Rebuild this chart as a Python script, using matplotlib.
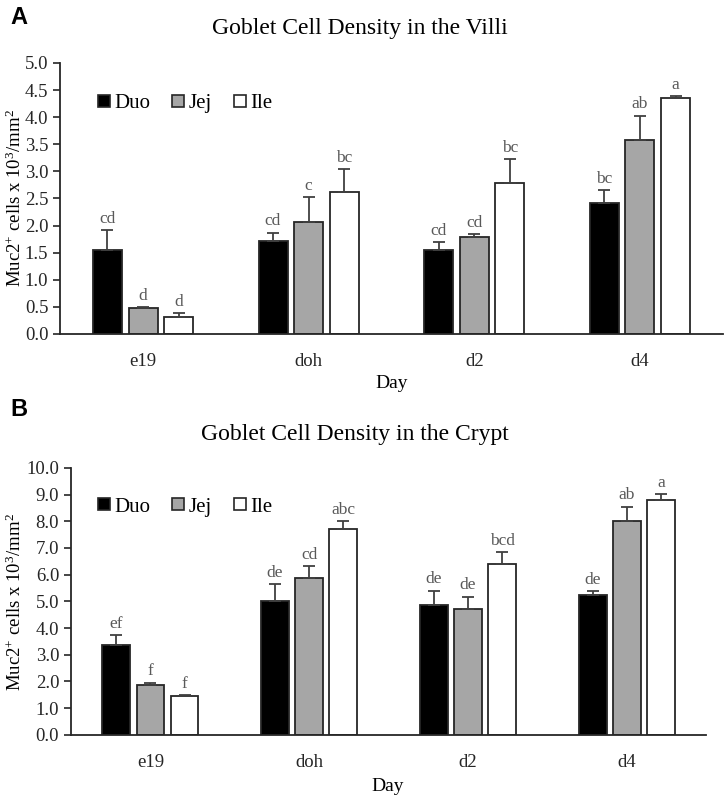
import numpy as np
import matplotlib
matplotlib.use("Agg")
import matplotlib.pyplot as plt
from matplotlib.lines import Line2D

plt.rcParams['font.family'] = ['Liberation Serif', 'DejaVu Serif']
plt.rcParams['mathtext.fontset'] = 'custom'
plt.rcParams['mathtext.rm'] = 'Liberation Serif'
plt.rcParams['mathtext.it'] = 'Liberation Serif:italic'

days = ['e19', 'doh', 'd2', 'd4']
segments = ['Duo', 'Jej', 'Ile']
colors = ['black', '#a6a6a6', 'white']

# Villi (A)
villi_mean = {
    'Duo': [1.55, 1.72, 1.55, 2.42],
    'Jej': [0.47, 2.07, 1.79, 3.58],
    'Ile': [0.31, 2.62, 2.78, 4.35],
}
villi_err = {
    'Duo': [0.37, 0.15, 0.15, 0.23],
    'Jej': [0.03, 0.45, 0.05, 0.45],
    'Ile': [0.07, 0.42, 0.44, 0.04],
}
villi_letters = {
    'Duo': ['cd', 'cd', 'cd', 'bc'],
    'Jej': ['d', 'c', 'cd', 'ab'],
    'Ile': ['d', 'bc', 'bc', 'a'],
}

# Crypt (B)
crypt_mean = {
    'Duo': [3.35, 5.00, 4.85, 5.22],
    'Jej': [1.87, 5.88, 4.70, 8.00],
    'Ile': [1.45, 7.70, 6.40, 8.80],
}
crypt_err = {
    'Duo': [0.38, 0.66, 0.55, 0.15],
    'Jej': [0.09, 0.45, 0.48, 0.55],
    'Ile': [0.03, 0.32, 0.43, 0.22],
}
crypt_letters = {
    'Duo': ['ef', 'de', 'de', 'de'],
    'Jej': ['f', 'cd', 'de', 'ab'],
    'Ile': ['f', 'abc', 'bcd', 'a'],
}

ylab = r'Muc2$^{+}$ cells x 10$^{3}$/mm$^{2}$'
fig = plt.figure(figsize=(7.25, 7.97), dpi=100)


def panel(ax, means, errs, letters, ymax, ystep, fmt, legy, legx, off):
    x = np.arange(len(days))
    w = 0.175
    step = 0.215
    for i, s in enumerate(segments):
        xs = x + (i - 1) * step
        ax.bar(xs, means[s], w, color=colors[i], edgecolor='#262626',
               linewidth=1.3, zorder=2)
        ax.errorbar(xs, means[s], yerr=[np.zeros(4), errs[s]], fmt='none',
                    ecolor='#404040', elinewidth=1.3, capsize=4, capthick=1.3,
                    zorder=3)
        for xi, m, e, lt in zip(xs, means[s], errs[s], letters[s]):
            ax.text(xi, m + e + off, lt, ha='center', va='bottom',
                    fontsize=12.5, color='#595959')
    ax.set_xlim(-0.5, 3.5)
    ax.set_ylim(0, ymax)
    ax.set_yticks(np.arange(0, ymax + 0.001, ystep))
    ax.set_yticklabels([fmt % v for v in np.arange(0, ymax + 0.001, ystep)])
    ax.set_xticks(x)
    ax.set_xticklabels(days)
    ax.tick_params(axis='x', length=0, pad=14, labelsize=13.5, colors='#262626')
    ax.tick_params(axis='y', length=5, width=1.2, labelsize=13.5,
                   colors='#262626')
    for sp in ['top', 'right']:
        ax.spines[sp].set_visible(False)
    for sp in ['left', 'bottom']:
        ax.spines[sp].set_linewidth(1.3)
        ax.spines[sp].set_color('#262626')
    handles = [Line2D([], [], marker='s', linestyle='none', markersize=8,
                      markerfacecolor=c, markeredgecolor='#262626',
                      markeredgewidth=1.2) for c in colors]
    ax.legend(handles, segments, ncol=3, frameon=False, loc='center left',
              bbox_to_anchor=(legx, legy), handlelength=0.7,
              handletextpad=0.15, columnspacing=1.0, borderaxespad=0,
              borderpad=0, prop={'family': 'Liberation Serif', 'size': 15})


axA = fig.add_axes([0.083, 0.581, 0.914, 0.340])
panel(axA, villi_mean, villi_err, villi_letters, 5.0, 0.5, '%.1f',
      0.852, 0.055, 0.06)
axB = fig.add_axes([0.098, 0.078, 0.876, 0.335])
panel(axB, crypt_mean, crypt_err, crypt_letters, 10.0, 1.0, '%.1f',
      0.854, 0.04, 0.12)

fig.text(0.497, 0.964, 'Goblet Cell Density in the Villi', ha='center',
         va='center', fontsize=17)
fig.text(0.49, 0.455, 'Goblet Cell Density in the Crypt', ha='center',
         va='center', fontsize=17)
fig.text(0.54, 0.519, 'Day', ha='center', va='center', fontsize=14)
fig.text(0.535, 0.013, 'Day', ha='center', va='center', fontsize=14)
fig.text(0.021, 0.751, ylab, rotation=90, ha='center', va='center',
         fontsize=13.5)
fig.text(0.021, 0.245, ylab, rotation=90, ha='center', va='center',
         fontsize=13.5)
fig.text(0.014, 0.978, 'A', ha='left', va='center', fontsize=17,
         fontweight='bold', family='Liberation Sans')
fig.text(0.014, 0.486, 'B', ha='left', va='center', fontsize=17,
         fontweight='bold', family='Liberation Sans')

fig.savefig('out.png', dpi=100)
